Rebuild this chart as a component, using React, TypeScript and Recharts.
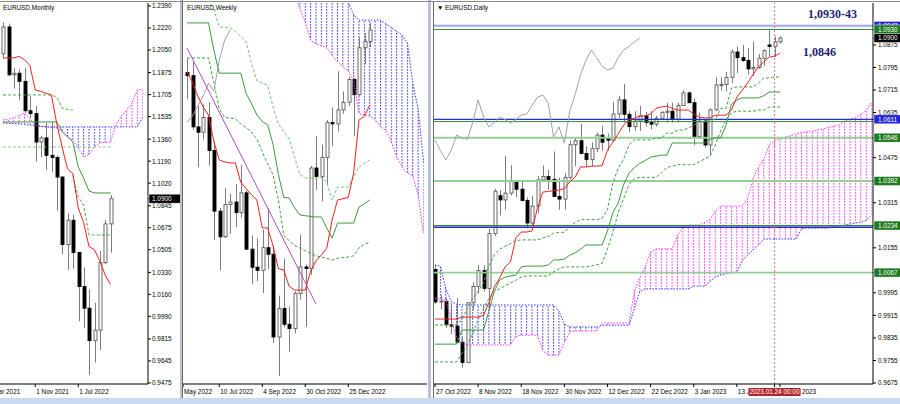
import React from "react"
import { Area, Bar, ComposedChart, Line, ReferenceLine, XAxis, YAxis } from "recharts"

type OHLC = [number, number, number, number]
type Num = number | null

const FONT = "'Liberation Sans', Arial, sans-serif"
const FS = 6.4
const H = 398

// ---------- monthly, May 2021 .. Jan 2023 : [open, high, low, close]
const monthlyCandles: OHLC[] = [
  [1.202, 1.2266, 1.1986, 1.2228], [1.2228, 1.2254, 1.1847, 1.1858], [1.1858, 1.1909, 1.1752, 1.187],
  [1.187, 1.1901, 1.1664, 1.1807], [1.1807, 1.1909, 1.1563, 1.158], [1.158, 1.1692, 1.1524, 1.1558],
  [1.1558, 1.1616, 1.1186, 1.1338], [1.1338, 1.1386, 1.1222, 1.137], [1.137, 1.1483, 1.1121, 1.1235],
  [1.1235, 1.1495, 1.1106, 1.1218], [1.1218, 1.1234, 1.0806, 1.1067], [1.1067, 1.1076, 1.0471, 1.0545],
  [1.0545, 1.0787, 1.0349, 1.0733], [1.0733, 1.0774, 1.0359, 1.0484], [1.0484, 1.0486, 0.9952, 1.022],
  [1.022, 1.0368, 0.9899, 1.0053], [1.0053, 1.0198, 0.9536, 0.9802], [0.9802, 1.0094, 0.9632, 0.9883],
  [0.9883, 1.0497, 0.973, 1.0405], [1.0405, 1.0737, 1.0393, 1.0705], [1.0705, 1.0927, 1.0482, 1.09],
]
const monthlyTenkan: Num[] = [1.1988, 1.1988, 1.1988, 1.2, 1.1975, 1.193, 1.174, 1.173, 1.1715, 1.1702, 1.148, 1.13, 1.113, 1.1095, 1.083, 1.0715, 1.053, 1.0505, 1.042, 1.031, 1.0235]
const monthlyKijun: Num[] = [1.1493, 1.1493, 1.1493, 1.1493, 1.1493, 1.1493, 1.1493, 1.1493, 1.1493, 1.1493, 1.1493, 1.142, 1.1377, 1.1338, 1.1145, 1.106, 1.096, 1.0944, 1.0944, 1.0944, 1.0944]
const monthlyDashA: Num[] = [1.1702, 1.1702, 1.1702, 1.1702, 1.1702, 1.1702, 1.1702, 1.1702, 1.1702, 1.1702, 1.1686, 1.1601, 1.159, 1.1586]
const monthlyDashC: Num[] = [null, null, null, null, null, null, null, null, null, null, null, null, null, 1.108, 1.0913, 1.0851, 1.0619, 1.0619, 1.0619, 1.0619, 1.0619]
const monthlyDashB: Num[] = [1.13, 1.13, 1.13, 1.13, 1.13, 1.13, 1.13, 1.13, 1.13, 1.13, 1.13, 1.13, 1.13, 1.13, 1.13, 1.13, 1.13, 1.13, 1.13, 1.13, 1.13]
const monthlySpanA: Num[] = [1.151, 1.1515, 1.1525, 1.1545, 1.1563, 1.152, 1.147, 1.1462, 1.1455, 1.145, 1.1446, 1.142, 1.138, 1.1354, 1.129, 1.1222, 1.124, 1.13, 1.133, 1.1336, 1.1338, 1.147, 1.154, 1.1586, 1.164, 1.174, 1.1748]
const monthlySpanB: Num[] = [1.1485, 1.1483, 1.148, 1.1478, 1.1475, 1.147, 1.1465, 1.146, 1.1455, 1.1455, 1.1455, 1.1455, 1.1455, 1.1455, 1.1455, 1.1455, 1.1455, 1.1455, 1.1455, 1.1455, 1.1455, 1.1455, 1.1455, 1.1455, 1.1455, 1.1455, 1.1532]
const monthlyPriceTicks = [1.239, 1.222, 1.205, 1.1875, 1.1705, 1.1535, 1.136, 1.119, 1.102, 1.0845, 1.0675, 1.0505, 1.033, 1.016, 0.999, 0.9815, 0.9645, 0.9475]
const monthlyBoxes = [1.09]
const monthlyTimeTicks = [-2, 6, 14]
const monthlyTimeLabels = ["Mar 2021", "1 Nov 2021", "1 Jul 2022"]

// ---------- weekly, 29 May 2022 .. 22 Jan 2023
const weeklyCandles: OHLC[] = [
  [1.0732, 1.0787, 1.0628, 1.072], [1.072, 1.0774, 1.0506, 1.0518], [1.0518, 1.0601, 1.0359, 1.0497],
  [1.0497, 1.0606, 1.0469, 1.0555], [1.0555, 1.0615, 1.0366, 1.0425], [1.0425, 1.0463, 1.0072, 1.0186],
  [1.0186, 1.0199, 0.9952, 1.0085], [1.0085, 1.0278, 1.008, 1.0212], [1.0212, 1.0254, 1.0097, 1.0222],
  [1.0222, 1.0293, 1.0123, 1.018], [1.018, 1.0368, 1.016, 1.0258], [1.0258, 1.0267, 1.0034, 1.0036],
  [1.0036, 1.009, 0.9899, 0.9965], [0.9965, 1.0079, 0.991, 0.9953], [0.9953, 1.0113, 0.9864, 1.0042],
  [1.0042, 1.0198, 0.9956, 1.0016], [1.0016, 1.0051, 0.9666, 0.969], [0.969, 0.9853, 0.9536, 0.9802],
  [0.9802, 0.9999, 0.9728, 0.974], [0.974, 0.9809, 0.9632, 0.9723], [0.9723, 0.987, 0.9705, 0.9862],
  [0.9862, 1.0094, 0.9837, 0.9966], [0.9966, 0.9976, 0.973, 0.996], [0.996, 1.0364, 0.9935, 1.0356],
  [1.0356, 1.0481, 1.027, 1.0323], [1.0323, 1.0448, 1.0224, 1.0398], [1.0398, 1.0545, 1.029, 1.0535],
  [1.0535, 1.0595, 1.0442, 1.053], [1.053, 1.0737, 1.05, 1.0585], [1.0585, 1.0658, 1.057, 1.0615],
  [1.0615, 1.0715, 1.06, 1.0705], [1.0705, 1.071, 1.0482, 1.0645], [1.0645, 1.087, 1.064, 1.083],
  [1.083, 1.0887, 1.0765, 1.0855], [1.0855, 1.0927, 1.0832, 1.09],
]
const weeklyTenkan: Num[] = [1.0735, 1.0695, 1.064, 1.0597, 1.0565, 1.046, 1.0388, 1.038, 1.0376, 1.0376, 1.03, 1.0275, 1.025, 1.023, 1.012, 1.012, 1.005, 0.996, 0.9954, 0.989, 0.9875, 0.9875, 0.9875, 0.995, 0.999, 1.0013, 1.004, 1.0151, 1.023, 1.0235, 1.024, 1.0336, 1.0545, 1.056, 1.0604]
const weeklyKijun: Num[] = [1.0928, 1.0928, 1.0928, 1.0928, 1.0928, 1.082, 1.073, 1.073, 1.073, 1.073, 1.073, 1.065, 1.061, 1.0565, 1.054, 1.0526, 1.045, 1.033, 1.024, 1.0238, 1.02, 1.0171, 1.0168, 1.0165, 1.0163, 1.0163, 1.012, 1.008, 1.0139, 1.0139, 1.0139, 1.0139, 1.0202, 1.0215, 1.023]
const weeklyChikou: Num[] = [1.0535, 1.056, 1.06, 1.064, 1.069, 1.066, 1.078, 1.086, 1.09]
const weeklyDashUp: Num[] = [null, null, null, null, 1.104, 1.0979, 1.0912, 1.091, 1.0908, 1.0895, 1.0875, 1.0855, 1.0766, 1.07, 1.069, 1.0683, 1.0597, 1.053, 1.05, 1.047, 1.04, 1.033, 1.0317, 1.0317, 1.0317, 1.0317, 1.03, 1.023, 1.0281, 1.0281, 1.0281, 1.032, 1.036, 1.0375, 1.0388]
const weeklyDashLow: Num[] = [1.079, 1.079, 1.079, 1.079, 1.079, 1.0692, 1.0589, 1.0555, 1.0553, 1.055, 1.053, 1.0515, 1.0498, 1.0471, 1.042, 1.0372, 1.033, 1.023, 1.009, 1.007, 1.005, 1.0041, 1.003, 1.002, 1.001, 1.0005, 1.0, 0.9993, 1.0, 1.0003, 1.0005, 1.001, 1.0041, 1.0055, 1.0064]
const weeklyTrend: Num[] = [1.0829, null, null, null, null, null, null, null, null, null, null, null, null, null, null, null, null, null, null, null, null, null, null, null, 0.982]
const weeklySpanA: Num[] = [null, null, null, null, null, null, null, null, null, null, null, null, null, null, null, null, null, null, null, null, 1.103, 1.0985, 1.093, 1.086, 1.0845, 1.0838, 1.0829, 1.08, 1.0775, 1.0755, 1.0738, 1.07, 1.057, 1.0565, 1.056, 1.0545, 1.0518, 1.0505, 1.046, 1.04, 1.036, 1.0336, 1.0325, 1.025, 1.01]
const weeklySpanB: Num[] = [null, null, null, null, null, null, null, null, null, null, null, null, null, null, null, null, null, null, null, null, 1.11, 1.11, 1.11, 1.11, 1.11, 1.11, 1.11, 1.11, 1.11, 1.11, 1.101, 1.096, 1.0939, 1.0939, 1.0939, 1.0939, 1.0939, 1.0925, 1.091, 1.0895, 1.088, 1.085, 1.069, 1.059, 1.038]
const weeklyTimeTicks = [-0.744, 6, 14, 22, 30]
const weeklyTimeLabels = ["May 2022", "10 Jul 2022", "4 Sep 2022", "30 Oct 2022", "25 Dec 2022"]

// ---------- daily, 27 Oct 2022 .. 25 Jan 2023
const dailyCandles: OHLC[] = [
  [1.0078, 1.0094, 0.9955, 0.9963], [0.9963, 0.9986, 0.9937, 0.9966], [0.9965, 0.9977, 0.987, 0.9882],
  [0.9882, 0.9954, 0.985, 0.9877], [0.9877, 0.9976, 0.9815, 0.982], [0.982, 0.9838, 0.973, 0.9748],
  [0.9748, 0.996, 0.9745, 0.996], [0.996, 1.0033, 0.9935, 1.0018], [1.0018, 1.0094, 0.9993, 1.0074],
  [1.0074, 1.0093, 1.0, 1.0011], [1.0011, 1.0222, 0.9936, 1.0206], [1.0206, 1.0364, 1.0197, 1.0356],
  [1.034, 1.036, 1.027, 1.0325], [1.0325, 1.0481, 1.029, 1.0349], [1.0349, 1.0448, 1.0341, 1.0391],
  [1.0391, 1.0396, 1.0334, 1.0363], [1.0363, 1.0392, 1.032, 1.0323], [1.0323, 1.0334, 1.0224, 1.0243],
  [1.0243, 1.034, 1.0233, 1.0303], [1.0303, 1.041, 1.0279, 1.0396], [1.0396, 1.0447, 1.0388, 1.0408],
  [1.0408, 1.0432, 1.0361, 1.0398], [1.0398, 1.0497, 1.0338, 1.0337], [1.0337, 1.0404, 1.029, 1.0328],
  [1.0328, 1.042, 1.029, 1.0405], [1.0405, 1.0536, 1.0397, 1.0521], [1.0521, 1.0545, 1.0445, 1.0535],
  [1.0535, 1.0595, 1.049, 1.049], [1.049, 1.0514, 1.0442, 1.0468], [1.0468, 1.053, 1.0445, 1.0507],
  [1.0507, 1.0565, 1.0495, 1.0555], [1.0555, 1.0588, 1.05, 1.053], [1.0545, 1.056, 1.05, 1.0537],
  [1.0537, 1.0673, 1.0534, 1.063], [1.063, 1.0695, 1.0615, 1.068], [1.068, 1.0737, 1.06, 1.0629],
  [1.0629, 1.064, 1.0565, 1.0585], [1.0585, 1.064, 1.057, 1.0605], [1.0605, 1.0658, 1.057, 1.0623],
  [1.0623, 1.0637, 1.0585, 1.06], [1.06, 1.064, 1.0575, 1.0594], [1.0594, 1.0624, 1.0585, 1.0615],
  [1.0615, 1.064, 1.061, 1.0636], [1.0636, 1.067, 1.06, 1.064], [1.064, 1.067, 1.06, 1.0611],
  [1.0611, 1.067, 1.06, 1.066], [1.066, 1.0715, 1.066, 1.0705], [1.0705, 1.071, 1.067, 1.067],
  [1.067, 1.0685, 1.0519, 1.055], [1.055, 1.0635, 1.0545, 1.0605], [1.0605, 1.061, 1.051, 1.052],
  [1.052, 1.065, 1.0482, 1.0645], [1.0645, 1.076, 1.064, 1.0733], [1.0733, 1.076, 1.0713, 1.0735],
  [1.0735, 1.078, 1.071, 1.076], [1.076, 1.086, 1.074, 1.085], [1.085, 1.087, 1.0775, 1.083],
  [1.083, 1.0875, 1.0815, 1.082], [1.082, 1.0865, 1.077, 1.079], [1.079, 1.0887, 1.0765, 1.0795],
  [1.0795, 1.0843, 1.079, 1.0828], [1.0828, 1.086, 1.08, 1.0855], [1.0875, 1.0927, 1.0835, 1.087],
  [1.087, 1.0905, 1.0832, 1.0886], [1.0886, 1.0905, 1.088, 1.09],
]
const dailyTenkan: Num[] = [
  0.9902, 0.9902, 0.9902, 0.9902, 0.9902, 0.9909, 0.9909, 0.9909, 0.9909, 0.9915,
  0.996, 1.0015, 1.0048, 1.0087, 1.0105, 1.019, 1.0211, 1.0211, 1.0215, 1.0296,
  1.0353, 1.0355, 1.0358, 1.036, 1.0365, 1.0389, 1.0406, 1.0442, 1.0442, 1.0445,
  1.0445, 1.0447, 1.0502, 1.053, 1.056, 1.0591, 1.0609, 1.0615, 1.0623, 1.0623,
  1.063, 1.065, 1.0655, 1.0658, 1.065, 1.0644, 1.0644, 1.0644, 1.063, 1.0619,
  1.0616, 1.0616, 1.0626, 1.0626, 1.0626, 1.0644, 1.069, 1.0715, 1.074, 1.077,
  1.0797, 1.0815, 1.0832, 1.0835, 1.0846,
]
const dailyKijun: Num[] = [
  0.9813, 0.9813, 0.9813, 0.9813, 0.9813, 0.9863, 0.9863, 0.9863, 0.9863, 0.9863,
  0.993, 1.0, 1.004, 1.0051, 1.0055, 1.0058, 1.0087, 1.009, 1.009, 1.009,
  1.009, 1.0094, 1.0112, 1.0112, 1.0115, 1.0129, 1.0137, 1.015, 1.0165, 1.0165,
  1.0165, 1.0165, 1.0215, 1.028, 1.0314, 1.038, 1.042, 1.044, 1.0455, 1.0465,
  1.0477, 1.048, 1.0484, 1.0484, 1.0527, 1.0527, 1.0527, 1.0527, 1.0527, 1.0527,
  1.0527, 1.054, 1.0545, 1.0545, 1.059, 1.0665, 1.068, 1.0687, 1.0687, 1.0687,
  1.0687, 1.0695, 1.0708, 1.0708, 1.0708,
]
const dailyDashU: Num[] = [
  0.9881, 0.9881, 0.9881, 0.9881, 0.9881, 0.99, 0.994, 0.9975, 1.0, 1.003,
  1.009, 1.013, 1.015, 1.016, 1.017, 1.018, 1.0183, 1.0183, 1.0183, 1.0183,
  1.019, 1.0195, 1.0207, 1.021, 1.021, 1.023, 1.0245, 1.0255, 1.0255, 1.0255,
  1.0255, 1.026, 1.029, 1.0385, 1.0438, 1.047, 1.052, 1.0538, 1.0538, 1.0538,
  1.0538, 1.0545, 1.0545, 1.0562, 1.0562, 1.0573, 1.0573, 1.058, 1.0591, 1.0602,
  1.0602, 1.061, 1.061, 1.065, 1.065, 1.0722, 1.0726, 1.0726, 1.0726, 1.0726,
  1.074, 1.0758, 1.0758, 1.0761, 1.0761,
]
const dailyDashL: Num[] = [
  0.975, 0.975, 0.975, 0.975, 0.975, 0.978, 0.981, 0.985, 0.99, 0.994,
  0.9975, 1.0, 1.001, 1.002, 1.003, 1.004, 1.0051, 1.0055, 1.0055, 1.0055,
  1.0055, 1.0055, 1.007, 1.008, 1.0087, 1.0087, 1.0087, 1.0087, 1.0087, 1.009,
  1.0095, 1.01, 1.015, 1.021, 1.028, 1.033, 1.038, 1.04, 1.0405, 1.0405,
  1.0405, 1.0405, 1.042, 1.044, 1.0445, 1.045, 1.045, 1.045, 1.045, 1.046,
  1.047, 1.048, 1.052, 1.057, 1.0609, 1.0634, 1.064, 1.064, 1.064, 1.064,
  1.0644, 1.0644, 1.0655, 1.0655, 1.0655,
]
const dailyChikou: Num[] = [
  1.0538, 1.05, 1.0467, 1.05, 1.0555, 1.0545, 1.054, 1.06, 1.068, 1.062,
  1.0584, 1.06, 1.0619, 1.061, 1.0598, 1.061, 1.0626, 1.063, 1.066, 1.069,
  1.0697, 1.0669, 1.0548, 1.0584, 1.0527, 1.064, 1.07, 1.077, 1.082, 1.0857,
  1.083, 1.08, 1.0786, 1.0793, 1.083, 1.0857, 1.087, 1.0886, 1.09,
]
const dailySpanA: Num[] = [
  0.9975, 0.9972, 0.997, 0.99, 0.9837, 0.9817, 0.981, 0.981, 0.981, 0.981,
  0.981, 0.981, 0.981, 0.981, 0.981, 0.984, 0.9845, 0.9845, 0.9845, 0.9845,
  0.979, 0.9774, 0.9774, 0.9774, 0.982, 0.9856, 0.986, 0.986, 0.986, 0.986,
  0.986, 0.9888, 0.9888, 0.9888, 0.9888, 0.9888, 0.9888, 1.0, 1.005, 1.0087,
  1.014, 1.0151, 1.0151, 1.0151, 1.0151, 1.02, 1.023, 1.0236, 1.0236, 1.0236,
  1.0245, 1.0255, 1.0285, 1.0303, 1.0303, 1.0303, 1.0303, 1.0303, 1.033, 1.04,
  1.044, 1.047, 1.052, 1.0535, 1.054, 1.0548, 1.0553, 1.056, 1.0563, 1.0567,
  1.057, 1.0573, 1.0577, 1.0582, 1.0587, 1.0591, 1.0605, 1.0612, 1.0616, 1.0628,
  1.0644, 1.0672,
]
const dailySpanB: Num[] = [
  1.0094, 1.009, 1.001, 0.9965, 0.9955, 0.9952, 0.9952, 0.9952, 0.9952, 0.9952,
  0.9952, 0.9952, 0.9952, 0.9952, 0.9952, 0.9952, 0.9952, 0.9952, 0.9952, 0.9952,
  0.9952, 0.9952, 0.9952, 0.993, 0.9885, 0.9874, 0.9874, 0.9874, 0.9874, 0.9874,
  0.9874, 0.988, 0.988, 0.988, 0.988, 0.988, 0.988, 0.994, 1.0, 1.0009,
  1.0009, 1.0009, 1.0009, 1.0009, 1.0009, 1.0009, 1.0009, 1.0009, 1.0019, 1.0019,
  1.0019, 1.0035, 1.0051, 1.0058, 1.0063, 1.0066, 1.0069, 1.011, 1.0128, 1.0147,
  1.0165, 1.0186, 1.0186, 1.0186, 1.0186, 1.0186, 1.0186, 1.0186, 1.0222, 1.0225,
  1.0225, 1.0225, 1.0225, 1.0225, 1.023, 1.0233, 1.0236, 1.0239, 1.0243, 1.0246,
  1.0252, 1.0272,
]
const dailyLevels = [1.0943, 1.093, 1.0611, 1.0603, 1.0546, 1.0392, 1.0234, 1.0228, 1.0067]
const dailyPriceTicks = [1.0875, 1.0795, 1.0715, 1.0635, 1.0475, 1.0315, 1.0155, 0.9995, 0.9915, 0.9835, 0.9755, 0.9675]
const dailyBoxes = [1.0943, 1.093, 1.09, 1.0611, 1.0546, 1.0392, 1.0234, 1.0067]
const dailyTimeTicks = [0, 8, 16, 24, 32, 40, 48, 56, 64, 63]
const dailyTimeLabels = ["27 Oct 2022", "8 Nov 2022", "18 Nov 2022", "30 Nov 2022", "12 Dec 2022", "22 Dec 2022", "3 Jan 2023", "13 Jan 2023", "25 Jan 2023", "2023.01.24 00:00"]
const dailyMarkBar = 63

function buildRows(slots: number, candles: OHLC[], series: Record<string, Num[]>, spanA: Num[], spanB: Num[]) {
  const rows: any[] = []
  for (let i = 0; i < slots; i++) {
    const row: any = { i }
    const c = candles[i]
    if (c) {
      row.o = c[0]; row.h = c[1]; row.l = c[2]; row.c = c[3]
      row.range = [c[2], c[1]]
    }
    Object.keys(series).forEach((k) => {
      const v = series[k][i]
      row[k] = v == null ? null : v
    })
    const a = spanA[i]
    const b = spanB[i]
    if (a != null && b != null) {
      row.spanA = a
      row.spanB = b
      row.pink = a >= b ? [b, a] : null
      row.blue = b > a ? [a, b] : null
    }
    rows.push(row)
  }
  return rows
}

const candleShape = (props: any) => {
  const { x, y, width, height, payload } = props
  if (!payload || payload.o == null || !isFinite(y) || !isFinite(height)) return <g />
  const top = Math.min(y, y + height)
  const h = Math.abs(height)
  const k = payload.h > payload.l ? h / (payload.h - payload.l) : 0
  const cx = Math.round(x + width / 2) + 0.5
  const hi = Math.max(payload.o, payload.c)
  const lo = Math.min(payload.o, payload.c)
  const by = top + (payload.h - hi) * k
  const bh = Math.max(1, (hi - lo) * k)
  const up = payload.c >= payload.o
  return (
    <g>
      <line x1={cx} x2={cx} y1={top} y2={top + h} stroke="#7d7d7d" strokeWidth={1} />
      <rect x={cx - 1.5} y={by} width={3} height={bh} fill={up ? "#ffffff" : "#000000"} stroke={up ? "#5a5a5a" : "#000000"} strokeWidth={0.9} />
    </g>
  )
}

const makeTimeTick = (ticks: number[], labels: string[], boxed?: number) => (p: any) => {
  const v = p.payload.value
  const label = labels[ticks.indexOf(v)]
  if (boxed != null && v === boxed) {
    return (
      <g>
        <rect x={p.x - 26} y={p.y + 1} width={52} height={8} fill="#b3282d" />
        <text x={p.x} y={p.y + 7.2} textAnchor="middle" fill="#ffffff" fontSize={FS} fontFamily={FONT}>{label}</text>
      </g>
    )
  }
  return <text x={p.x + 1} y={p.y + 7} fill="#000" fontSize={FS} fontFamily={FONT}>{label}</text>
}

const makePriceTick = (boxes: number[], colors: string[], back: number) => (p: any) => {
  const v = p.payload.value
  const bi = boxes.findIndex((b) => Math.abs(b - v) < 1e-9)
  const txt = v.toFixed(4)
  if (bi >= 0) {
    return (
      <g>
        <rect x={p.x - back} y={p.y - 4.5} width={32} height={9} fill={colors[bi]} stroke="#ffffff" strokeWidth={0.5} />
        <text x={p.x} y={p.y + 2.4} fill="#ffffff" fontSize={FS} fontFamily={FONT}>{txt}</text>
      </g>
    )
  }
  return <text x={p.x} y={p.y + 2.4} fill="#000" fontSize={FS} fontFamily={FONT}>{txt}</text>
}

type LineSpec = { key: string; color: string; dash?: string; width?: number; connect?: boolean }

function Panel(p: {
  id: string
  width: number
  rows: any[]
  xDomain: [number, number]
  yDomain: [number, number]
  marginLeft: number
  marginRight: number
  axisWidth: number
  tickMargin: number
  step: number
  patternX: number
  timeTicks: number[]
  timeLabels: string[]
  boxedTime?: number
  priceTicks?: number[]
  boxes?: number[]
  boxColors?: string[]
  lines: LineSpec[]
  levels?: number[]
  levelColors?: string[]
  levelWidths?: number[]
  vline?: number
}) {
  const allPriceTicks = (p.priceTicks || []).concat(p.boxes || [])
  return (
    <ComposedChart width={p.width} height={H} data={p.rows} margin={{ top: 3, right: p.marginRight, bottom: 0, left: p.marginLeft }}>
      <defs>
        <pattern id={p.id + "-pink"} x={p.patternX} y={0} width={p.step} height={3} patternUnits="userSpaceOnUse">
          <rect x={0} y={0} width={1} height={1.7} fill="#ff3cff" />
        </pattern>
        <pattern id={p.id + "-blue"} x={p.patternX} y={0} width={p.step} height={3} patternUnits="userSpaceOnUse">
          <rect x={0} y={0} width={1} height={1.7} fill="#3c3cff" />
        </pattern>
      </defs>
      <XAxis
        dataKey="i"
        type="number"
        domain={p.xDomain}
        allowDataOverflow
        ticks={p.timeTicks}
        interval={0}
        height={14}
        tickSize={3}
        tickMargin={0}
        stroke="#000"
        tick={makeTimeTick(p.timeTicks, p.timeLabels, p.boxedTime)}
      />
      {p.axisWidth > 0 ? (
        <YAxis
          orientation="right"
          type="number"
          width={p.axisWidth}
          domain={p.yDomain}
          allowDataOverflow
          ticks={allPriceTicks}
          interval={0}
          tickSize={3}
          tickMargin={p.tickMargin}
          stroke="#000"
          tick={makePriceTick(p.boxes || [], p.boxColors || [], p.tickMargin + 2)}
        />
      ) : (
        <YAxis hide type="number" domain={p.yDomain} allowDataOverflow />
      )}
      <Area dataKey="blue" type="linear" fill={`url(#${p.id}-blue)`} fillOpacity={1} stroke="none" isAnimationActive={false} dot={false} activeDot={false} />
      <Area dataKey="pink" type="linear" fill={`url(#${p.id}-pink)`} fillOpacity={1} stroke="none" isAnimationActive={false} dot={false} activeDot={false} />
      <Line dataKey="spanA" stroke="#ff2cff" strokeDasharray="1.5 1.5" strokeWidth={1} dot={false} activeDot={false} isAnimationActive={false} />
      <Line dataKey="spanB" stroke="#3434ff" strokeDasharray="1.5 1.5" strokeWidth={1} dot={false} activeDot={false} isAnimationActive={false} />
      {(p.levels || []).map((v, k) => (
        <ReferenceLine key={"lv" + k} y={v} stroke={(p.levelColors || [])[k]} strokeWidth={(p.levelWidths || [])[k]} />
      ))}
      {p.vline != null && <ReferenceLine x={p.vline} stroke="#e07070" strokeDasharray="2 2" />}
      {p.lines.map((l) => (
        <Line
          key={l.key}
          dataKey={l.key}
          stroke={l.color}
          strokeWidth={l.width || 1}
          strokeDasharray={l.dash}
          connectNulls={!!l.connect}
          dot={false}
          activeDot={false}
          isAnimationActive={false}
        />
      ))}
      <Bar dataKey="range" barSize={4} shape={candleShape} isAnimationActive={false} />
    </ComposedChart>
  )
}

const title: React.CSSProperties = { position: "absolute", fontFamily: FONT, fontSize: FS, lineHeight: "7px", color: "#000", whiteSpace: "nowrap" }
const note: React.CSSProperties = { position: "absolute", fontFamily: "'Liberation Serif', 'Times New Roman', serif", fontWeight: "bold", fontSize: 12, lineHeight: "12px", color: "#1f1f6f", whiteSpace: "nowrap" }

export default function App() {
  const mRows = buildRows(27, monthlyCandles, { tenkan: monthlyTenkan, kijun: monthlyKijun, dashA: monthlyDashA, dashB: monthlyDashB, dashC: monthlyDashC }, monthlySpanA, monthlySpanB)
  const wRows = buildRows(45, weeklyCandles, { tenkan: weeklyTenkan, kijun: weeklyKijun, chikou: weeklyChikou, dashUp: weeklyDashUp, dashLow: weeklyDashLow, trend: weeklyTrend }, weeklySpanA, weeklySpanB)
  const dRows = buildRows(82, dailyCandles, { tenkan: dailyTenkan, kijun: dailyKijun, dashU: dailyDashU, dashL: dailyDashL, chikou: dailyChikou }, dailySpanA, dailySpanB)

  const GREEN_BOX = "#1f7a1f"
  const BLUE_BOX = "#2424d8"

  return (
    <div style={{ position: "absolute", left: 0, top: 0, width: 900, height: 404, background: "#ffffff", overflow: "hidden" }}>
      <div style={{ position: "absolute", left: 0, top: 0, width: 181, height: H }}>
        <Panel
          id="mn"
          width={181}
          rows={mRows}
          xDomain={[-0.558, 26.977]}
          yDomain={[0.94666, 1.24132]}
          marginLeft={0}
          marginRight={0}
          axisWidth={33}
          tickMargin={1}
          step={5.375}
          patternX={2.5}
          timeTicks={monthlyTimeTicks}
          timeLabels={monthlyTimeLabels}
          priceTicks={monthlyPriceTicks}
          boxes={monthlyBoxes}
          boxColors={["#000000"]}
          lines={[
            { key: "dashB", color: "#8fcf8f", dash: "3 2" },
            { key: "dashA", color: "#4fa84f", dash: "3 2" },
            { key: "dashC", color: "#4fa84f", dash: "3 2" },
            { key: "kijun", color: "#3a9a3a" },
            { key: "tenkan", color: "#f02020" },
          ]}
        />
      </div>
      <div style={{ position: "absolute", left: 182, top: 0, width: 246, height: H }}>
        <Panel
          id="wk"
          width={246}
          rows={wRows}
          xDomain={[-0.744, 44.65]}
          yDomain={[0.95047, 1.10064]}
          marginLeft={1}
          marginRight={1}
          axisWidth={0}
          tickMargin={1}
          step={5.375}
          patternX={4.5}
          timeTicks={weeklyTimeTicks}
          timeLabels={weeklyTimeLabels}
          lines={[
            { key: "dashUp", color: "#78c078", dash: "3 2" },
            { key: "dashLow", color: "#3f9f3f", dash: "3 2" },
            { key: "kijun", color: "#3a9a3a" },
            { key: "chikou", color: "#a0a0b0" },
            { key: "trend", color: "#b04cc0", connect: true },
            { key: "tenkan", color: "#f02020" },
          ]}
        />
      </div>
      <div style={{ position: "absolute", left: 431, top: 0, width: 469, height: H }}>
        <Panel
          id="dy"
          width={469}
          rows={dRows}
          xDomain={[-0.186, 81.26]}
          yDomain={[0.96715, 1.1024]}
          marginLeft={3}
          marginRight={0}
          axisWidth={27}
          tickMargin={2}
          step={5.39}
          patternX={3.5}
          timeTicks={dailyTimeTicks}
          timeLabels={dailyTimeLabels}
          boxedTime={dailyMarkBar}
          priceTicks={dailyPriceTicks}
          boxes={dailyBoxes}
          boxColors={[BLUE_BOX, GREEN_BOX, "#000000", BLUE_BOX, GREEN_BOX, GREEN_BOX, GREEN_BOX, GREEN_BOX]}
          levels={dailyLevels}
          levelColors={["#a3a3f5", "#2f8f2f", "#2b2bd6", "#2f8f2f", "#93cf93", "#93cf93", "#2f8f2f", "#2b2bd6", "#93cf93"]}
          levelWidths={[2, 1, 1.3, 1, 2, 2, 1.3, 1.3, 1.6]}
          vline={dailyMarkBar}
          lines={[
            { key: "dashU", color: "#3f9f3f", dash: "3 2" },
            { key: "dashL", color: "#3f9f3f", dash: "3 2" },
            { key: "kijun", color: "#3a9a3a" },
            { key: "chikou", color: "#a0a0b0" },
            { key: "tenkan", color: "#f02020" },
          ]}
        />
      </div>

      {/* window frames */}
      <div style={{ position: "absolute", left: 180, top: 0, width: 2, height: H, background: "#b9c2ce" }} />
      <div style={{ position: "absolute", left: 182, top: 0, width: 1, height: H, background: "#6a6a6a" }} />
      <div style={{ position: "absolute", left: 428, top: 0, width: 3, height: H, background: "#b9c2ce" }} />
      <div style={{ position: "absolute", left: 433, top: 2, width: 1, height: H - 2, background: "#6a6a6a" }} />
      <div style={{ position: "absolute", left: 0, top: 1, width: 900, height: 1, background: "#8a8a8a" }} />
      <div style={{ position: "absolute", left: 0, top: H, width: 900, height: 404 - H, background: "#cbd9ee" }} />

      <div style={{ ...title, left: 3, top: 4 }}>EURUSD,Monthly</div>
      <div style={{ ...title, left: 187, top: 4 }}>EURUSD,Weekly</div>
      <div style={{ ...title, left: 437, top: 4 }}>▼ EURUSD,Daily</div>

      <div style={{ ...note, left: 808, top: 8 }}>1,0930-43</div>
      <div style={{ ...note, left: 803, top: 46 }}>1,0846</div>
    </div>
  )
}
